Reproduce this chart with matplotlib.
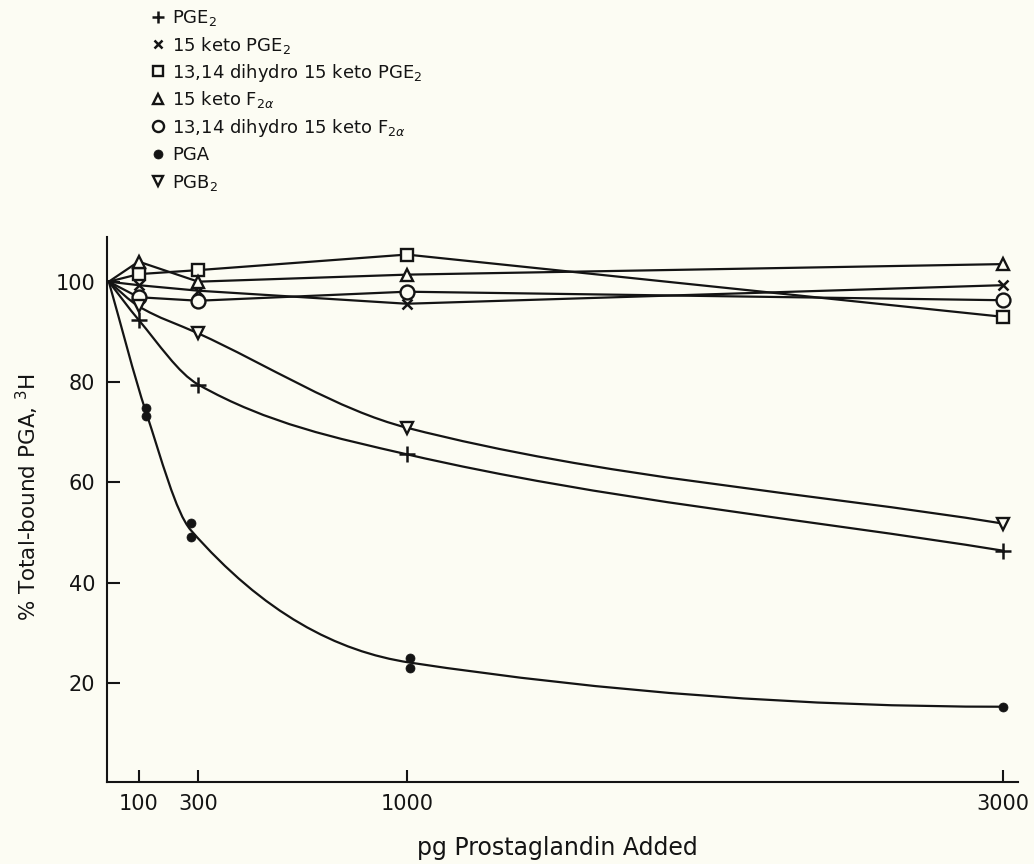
import numpy as np
import matplotlib
matplotlib.use("Agg")
import matplotlib.pyplot as plt
from matplotlib.path import Path
from matplotlib.patches import PathPatch
from matplotlib.lines import Line2D

# ---------------- data ----------------
dose = [0, 100, 300, 1000, 3000]
pge2 = [100, 92.4, 79.5, 65.6, 46.4]
keto_pge2 = [100, 99.3, 98.2, 95.6, 99.3]
dihydro_keto_pge2 = [100, 101.5, 102.3, 105.4, 93.0]
keto_f2a = [100, 104.0, 100.0, 101.4, 103.5]
dihydro_keto_f2a = [100, 96.9, 96.2, 98.0, 96.3]
pgb2 = [100, 95.1, 89.7, 70.9, 51.8]

pga_x = [125, 125, 275, 275, 1010, 1010, 3000]
pga_y = [74.8, 73.2, 52.0, 49.1, 25.1, 23.1, 15.3]
pga_curve_x = [0, 125, 275, 1010, 3000]
pga_curve_y = [100, 74.0, 50.5, 24.1, 15.3]

x_ticks = [100, 300, 1000, 3000]
y_ticks = [20, 40, 60, 80, 100]

labels = [r"PGE$_2$", r"15 keto PGE$_2$", r"13,14 dihydro 15 keto PGE$_2$",
          r"15 keto F$_{2\alpha}$", r"13,14 dihydro 15 keto F$_{2\alpha}$",
          "PGA", r"PGB$_2$"]

# ---------------- style ----------------
BG = "#fcfcf3"
INK = "#141414"
plt.rcParams["font.family"] = ["DejaVu Sans"]
plt.rcParams["mathtext.fontset"] = "dejavusans"

W, H = 1034, 864
fig = plt.figure(figsize=(W / 100, H / 100), dpi=100, facecolor=BG)
left, right, bottom, top = 107, 1018, 782, 237
ax = fig.add_axes([left / W, 1 - bottom / H, (right - left) / W, (bottom - top) / H])
ax.set_facecolor(BG)

LW = 1.6


def smooth_path(xs, ys, end="secant"):
    """Monotone cubic (Fritsch-Carlson) curve through points, as Bezier path."""
    x = np.asarray(xs, float)
    y = np.asarray(ys, float)
    n = len(x)
    h = np.diff(x)
    delta = np.diff(y) / h
    d = np.zeros(n)
    for k in range(1, n - 1):
        if delta[k - 1] * delta[k] > 0:
            w1 = 2 * h[k] + h[k - 1]
            w2 = h[k] + 2 * h[k - 1]
            d[k] = (w1 + w2) / (w1 / delta[k - 1] + w2 / delta[k])
    d[0] = delta[0]
    if end == "secant":
        d[-1] = delta[-1]
    else:
        dn = ((2 * h[-1] + h[-2]) * delta[-1] - h[-1] * delta[-2]) / (h[-1] + h[-2])
        d[-1] = dn if np.sign(dn) == np.sign(delta[-1]) else 0.0
    verts = [(x[0], y[0])]
    codes = [Path.MOVETO]
    for k in range(n - 1):
        hk = h[k]
        verts += [(x[k] + hk / 3, y[k] + d[k] * hk / 3),
                  (x[k + 1] - hk / 3, y[k + 1] - d[k + 1] * hk / 3),
                  (x[k + 1], y[k + 1])]
        codes += [Path.CURVE4] * 3
    return Path(verts, codes)


def add_curve(xs, ys, end="secant"):
    ax.add_patch(PathPatch(smooth_path(xs, ys, end), fill=False, ec=INK, lw=LW,
                           zorder=2, capstyle="round"))


# straight-segment series
ax.plot(dose, keto_pge2, color=INK, lw=LW, zorder=2)
ax.plot(dose, dihydro_keto_pge2, color=INK, lw=LW, zorder=2)
ax.plot(dose, keto_f2a, color=INK, lw=LW, zorder=2)
ax.plot(dose, dihydro_keto_f2a, color=INK, lw=LW, zorder=2)
# smooth series
add_curve(dose, pge2)
add_curve(dose, pgb2)
add_curve(pga_curve_x, pga_curve_y, end="flat")

mk = dict(linestyle="none", zorder=4, color=INK, mec=INK)
styles = [
    dict(marker="+", ms=11, mew=1.8),
    dict(marker="x", ms=7, mew=1.8),
    dict(marker="s", ms=9, mew=1.7, mfc=BG),
    dict(marker="^", ms=9, mew=1.7, mfc=BG),
    dict(marker="o", ms=10, mew=1.7, mfc=BG),
    dict(marker="o", ms=6.5, mew=0.5, mfc=INK),
    dict(marker="v", ms=9, mew=1.7, mfc=BG),
]
ax.plot(dose[1:], pge2[1:], **styles[0], **mk)
ax.plot(dose[1:], keto_pge2[1:], **styles[1], **mk)
ax.plot(dose[1:], dihydro_keto_pge2[1:], **styles[2], **mk)
ax.plot(dose[1:], keto_f2a[1:], **styles[3], **mk)
ax.plot(dose[1:], dihydro_keto_f2a[1:], **styles[4], **mk)
ax.plot(pga_x, pga_y, **styles[5], **mk)
ax.plot(dose[1:], pgb2[1:], **styles[6], **mk)

# axes
ax.set_xlim(-6, 3051)
ax.set_ylim(0.3, 108.9)
for s in ["top", "right"]:
    ax.spines[s].set_visible(False)
for s in ["left", "bottom"]:
    ax.spines[s].set_linewidth(1.5)
    ax.spines[s].set_color(INK)
ax.set_xticks(x_ticks)
ax.set_xticklabels([str(v) for v in x_ticks])
ax.set_yticks(y_ticks)
ax.set_yticklabels([str(v) for v in y_ticks])
ax.tick_params(axis="y", direction="in", length=9.5, width=1.5, labelsize=15,
               pad=8.5, colors=INK)
ax.tick_params(axis="x", direction="in", length=8.5, width=1.5, labelsize=15,
               pad=9, colors=INK)

fig.text(557 / W, 1 - 848 / H, "pg Prostaglandin Added", ha="center",
         va="center", fontsize=17, color=INK)
fig.text(27 / W, 1 - 497 / H, r"% Total-bound PGA, $^3$H", ha="center",
         va="center", rotation=90, fontsize=15.5, color=INK)

# legend (key drawn row by row in the top-left margin)
row0, row_step = 16.5, 27.4
mark_x, text_x = 158, 172
leg_ms = [9, 6, 7, 7.5, 8, 6.5, 7.5]
for i, (lab, st, ms) in enumerate(zip(labels, styles, leg_ms)):
    yr = row0 + i * row_step
    st_leg = dict(st)
    st_leg["ms"] = ms
    fig.add_artist(Line2D([mark_x / W], [1 - yr / H], transform=fig.transFigure,
                          ls="none", color=INK, mec=INK, **st_leg))
    fig.text(text_x / W, 1 - (yr + 6.8) / H, lab, ha="left", va="baseline",
             fontsize=13, color=INK)

fig.savefig("out.png", dpi=100, facecolor=BG)
